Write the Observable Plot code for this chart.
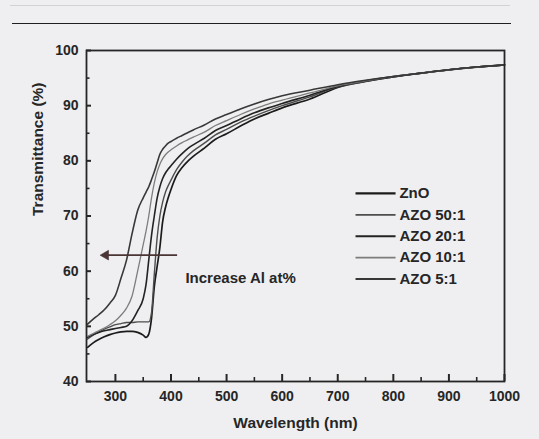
<!DOCTYPE html>
<html>
<head>
<meta charset="utf-8">
<script src="https://cdn.jsdelivr.net/npm/d3@7"></script>
<script src="https://cdn.jsdelivr.net/npm/@observablehq/plot@0.6"></script>
<style>
  html, body { margin: 0; padding: 0; background: #efeff1; }
  #wrap { position: relative; width: 539px; height: 439px; overflow: hidden; background: #efeff1; }
  #rule { position: absolute; left: 12px; top: 23px; width: 499px; border-top: 1.6px solid #1f1f1f; }
  #rule2 { position: absolute; left: 10px; top: 5px; width: 500px; border-top: 1px solid #d2d2d4; }
  #chart svg { display: block; }
</style>
</head>
<body>
<div id="wrap">
  <div id="rule2"></div>
  <div id="rule"></div>
  <div id="chart"></div>
</div>
<script>
// ---- data ----
const wavelength = [250, 260, 270, 280, 290, 300, 310, 320, 330, 340, 350, 355, 360, 365, 370, 375, 380, 385, 390, 395, 400, 410, 420, 430, 440, 460, 480, 500, 525, 550, 575, 600, 650, 700, 750, 800, 850, 900, 950, 1000];

const tZnO   = [46.2, 47.0, 47.6, 48.1, 48.5, 48.8, 49.0, 49.1, 49.1, 48.9, 48.4, 48.0, 48.6, 51.5, 57.2, 60.8, 64.3, 69.0, 71.5, 73.3, 74.8, 77.3, 78.8, 79.9, 80.8, 82.3, 83.9, 84.9, 86.3, 87.6, 88.6, 89.6, 91.2, 93.3, 94.4, 95.2, 95.9, 96.5, 97.0, 97.4];
const tAZO50 = [47.7, 48.4, 49.0, 49.5, 49.9, 50.3, 50.5, 50.7, 50.7, 50.8, 50.8, 50.8, 50.8, 52.5, 59.5, 66.0, 70.0, 72.5, 74.3, 75.5, 76.5, 78.4, 79.8, 80.9, 81.8, 83.2, 84.7, 85.7, 87.0, 88.1, 89.1, 90.0, 91.6, 93.4, 94.4, 95.2, 95.9, 96.5, 97.0, 97.4];
const tAZO20 = [48.0, 48.5, 48.9, 49.2, 49.4, 49.6, 49.8, 50.0, 51.0, 52.8, 55.0, 57.5, 62.0, 66.5, 70.0, 73.2, 75.3, 76.8, 77.8, 78.5, 79.1, 80.3, 81.3, 82.2, 82.9, 84.1, 85.5, 86.4, 87.6, 88.7, 89.6, 90.4, 91.9, 93.5, 94.5, 95.3, 95.9, 96.5, 97.0, 97.4];
const tAZO10 = [48.2, 48.7, 49.2, 49.7, 50.3, 51.0, 52.0, 53.3, 55.5, 60.0, 64.8, 67.2, 70.0, 73.3, 76.0, 78.0, 79.4, 80.4, 81.1, 81.6, 82.0, 82.7, 83.3, 83.8, 84.3, 85.2, 86.4, 87.3, 88.4, 89.4, 90.3, 91.0, 92.3, 93.6, 94.5, 95.3, 95.9, 96.5, 97.0, 97.4];
const tAZO5  = [50.4, 51.3, 52.1, 53.0, 54.2, 55.6, 58.7, 62.0, 66.8, 71.0, 73.3, 74.3, 75.3, 76.6, 78.0, 79.6, 81.2, 82.1, 82.7, 83.2, 83.5, 84.1, 84.6, 85.1, 85.6, 86.5, 87.6, 88.4, 89.4, 90.3, 91.1, 91.8, 92.8, 93.8, 94.6, 95.3, 95.9, 96.5, 97.0, 97.4];

const seriesNames = ["ZnO", "AZO 50:1", "AZO 20:1", "AZO 10:1", "AZO 5:1"];
const seriesValues = [tZnO, tAZO50, tAZO20, tAZO10, tAZO5];

const xDomain = [248, 1000];
const yDomain = [40, 100];
const xTicks = [300, 400, 500, 600, 700, 800, 900, 1000];
const xMinorTicks = [350, 450, 550, 650, 750, 850, 950];
const yTicks = [40, 50, 60, 70, 80, 90, 100];
const yMinorTicks = [45, 55, 65, 75, 85, 95];

const annotationText = "Increase Al at%";
const arrowFrom = [411, 62.9];
const arrowTo = [279, 62.9];
const annotationAt = [426, 58.7];

// legend placement (data coordinates)
const legendTopY = 74.1;
const legendStep = 3.88;
const legendX = [732, 804];
const legendTextX = 811;

// ---- layout & styles ----
const W = 539, H = 439;
const M = {left: 86, right: 35, top: 50, bottom: 58};
const plotW = W - M.left - M.right;
const plotH = H - M.top - M.bottom;

const colors = {"ZnO": "#1b1b1b", "AZO 50:1": "#4d4d4d", "AZO 20:1": "#232323", "AZO 10:1": "#7d7d7d", "AZO 5:1": "#383838"};
const widths = {"ZnO": 1.7, "AZO 50:1": 1.4, "AZO 20:1": 1.6, "AZO 10:1": 1.3, "AZO 5:1": 1.6};

const rows = [];
seriesNames.forEach((name, i) => {
  wavelength.forEach((w, j) => rows.push({series: name, wavelength: w, T: seriesValues[i][j]}));
});

const legendRows = seriesNames.map((name, i) => ({series: name, y: legendTopY - i * legendStep}));

const font = "'Liberation Sans', Arial, Helvetica, sans-serif";
const ink = "#262626";

const lineMarks = seriesNames.map(name =>
  Plot.line(rows.filter(r => r.series === name), {
    x: "wavelength", y: "T", stroke: colors[name], strokeWidth: widths[name], curve: "monotone-x"
  })
);

const chart = Plot.plot({
  width: W,
  height: H,
  marginLeft: M.left,
  marginRight: M.right,
  marginTop: M.top,
  marginBottom: M.bottom,
  style: {background: "transparent", fontFamily: font, color: ink},
  x: {domain: xDomain},
  y: {domain: yDomain},
  marks: [
    ...lineMarks,
    // inward ticks
    Plot.ruleX(xTicks, {x: d => d, insetTop: plotH - 7, stroke: ink, strokeWidth: 2}),
    Plot.ruleX(xMinorTicks, {x: d => d, insetTop: plotH - 4, stroke: ink, strokeWidth: 1.6}),
    Plot.ruleY(yTicks, {y: d => d, insetRight: plotW - 5, stroke: ink, strokeWidth: 2}),
    Plot.ruleY(yMinorTicks, {y: d => d, insetRight: plotW - 3.5, stroke: ink, strokeWidth: 1.6}),
    Plot.frame({stroke: ink, strokeWidth: 1.8}),
    Plot.axisX({ticks: xTicks, tickSize: 0, tickPadding: 10, tickFormat: d => String(d), fontSize: 14, fontWeight: "bold", fill: ink, label: null}),
    Plot.axisY({ticks: yTicks, tickSize: 0, tickPadding: 8, tickFormat: d => String(d), fontSize: 14, fontWeight: "bold", fill: ink, label: null}),
    Plot.text(["Wavelength (nm)"], {frameAnchor: "bottom", dy: 42, text: d => d, fontSize: 15.5, fontWeight: "bold", fill: ink, lineAnchor: "middle"}),
    Plot.text(["Transmittance (%)"], {frameAnchor: "left", dx: -48, rotate: -90, text: d => d, fontSize: 15.5, fontWeight: "bold", fill: ink, lineAnchor: "middle"}),
    // legend
    Plot.link(legendRows, {x1: () => legendX[0], x2: () => legendX[1], y1: "y", y2: "y", stroke: d => colors[d.series], strokeWidth: d => widths[d.series] + 0.4}),
    Plot.text(legendRows, {x: () => legendTextX, y: "y", text: "series", textAnchor: "start", fontSize: 15, fontWeight: "bold", fill: ink}),
    // annotation
    Plot.link([0], {x1: () => arrowFrom[0], y1: () => arrowFrom[1], x2: () => arrowTo[0], y2: () => arrowTo[1], stroke: "#4a3434", strokeWidth: 1.6}),
    Plot.dot([0], {x: () => arrowTo[0], y: () => arrowTo[1], symbol: "triangle", rotate: -90, r: 3.6, fill: "#4a3434", stroke: "#4a3434", strokeWidth: 0.6, dx: 2}),
    Plot.text([annotationText], {x: () => annotationAt[0], y: () => annotationAt[1], text: d => d, textAnchor: "start", fontSize: 15, fontWeight: "bold", fill: ink})
  ]
});

document.getElementById("chart").appendChild(chart);
</script>
</body>
</html>
